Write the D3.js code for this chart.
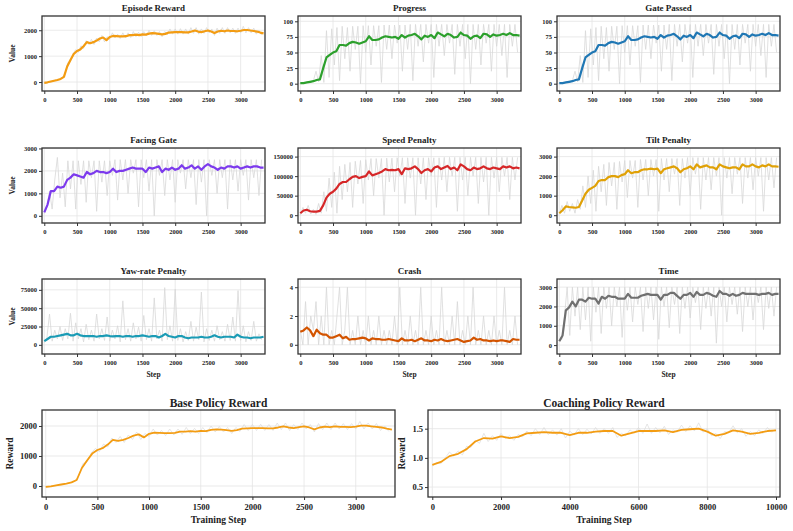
<!DOCTYPE html>
<html>
<head>
<meta charset="utf-8">
<script src="https://cdn.jsdelivr.net/npm/d3@7"></script>
<style>
  body { margin: 0; background: #fff; }
  text { font-family: "Liberation Serif", "Times New Roman", serif; font-weight: bold; fill: #222; }
</style>
</head>
<body>
<svg id="chart" width="793" height="531"></svg>
<script>
// training steps for the metric grid: smoothed every 50 steps, raw every 40 steps
var smoothStep = 50, rawStep = 40;
var stepTicks = [0, 500, 1000, 1500, 2000, 2500, 3000];
var coachTicks = [0, 2000, 4000, 6000, 8000, 10000];

var episodeSmooth = [
  -30, -10, 20, 50, 80, 120, 200, 600, 850, 1080,
  1200, 1260, 1380, 1540, 1500, 1540, 1600, 1680, 1720, 1620,
  1740, 1780, 1770, 1760, 1760, 1770, 1810, 1810, 1830, 1810,
  1840, 1830, 1870, 1890, 1880, 1860, 1840, 1860, 1910, 1920,
  1930, 1930, 1930, 1920, 1920, 1950, 1990, 1950, 1930, 1960,
  1990, 1950, 1890, 1950, 1980, 1960, 1990, 1970, 1970, 1960,
  1980, 2010, 2010, 1990, 1970, 1950, 1910, 1880];
var episodeRaw = [
  -60, -20, 0, 20, 60, 80, 120, 160, 350, 750, 800, 1100,
  1250, 1150, 1400, 1300, 1600, 1450, 1650, 1450, 1700, 1550, 1800, 1550,
  1750, 1650, 1900, 1700, 1850, 1680, 1900, 1700, 1900, 1720, 1950, 1750,
  1920, 1750, 1950, 1780, 2000, 1800, 1980, 1800, 1950, 1750, 1950, 1820,
  2050, 1850, 2050, 1850, 2060, 1850, 2050, 1850, 2100, 1880, 2100, 1850,
  2050, 1880, 2100, 1900, 2050, 1800, 2080, 1880, 2100, 1880, 2100, 1900,
  2080, 1880, 2080, 1900, 2150, 1900, 2100, 1900, 2080, 1850, 2000, 1820];

var progressSmooth = [
  1, 1, 2, 3, 4, 6, 7, 25, 42, 46,
  50, 52, 62, 62, 61, 65, 67, 66, 64, 66,
  68, 76, 70, 70, 71, 74, 76, 75, 74, 75,
  72, 78, 74, 77, 78, 80, 76, 71, 77, 75,
  78, 73, 82, 79, 76, 80, 78, 74, 75, 82,
  78, 77, 72, 76, 77, 73, 80, 79, 75, 79,
  77, 78, 80, 78, 81, 78, 78, 77];
var progressRaw = [
  0, 2, 1, 3, 2, 5, 20, 3, 45, 2, 85, 10,
  88, 30, 90, 5, 92, 40, 90, 20, 92, 55, 92, 0,
  93, 50, 93, 30, 93, 60, 93, 2, 94, 55, 94, 40,
  94, 65, 94, 20, 94, 55, 95, 5, 95, 60, 95, 35,
  95, 65, 95, 10, 95, 60, 95, 45, 95, 65, 95, 15,
  95, 60, 95, 40, 95, 0, 95, 55, 95, 30, 95, 65,
  95, 20, 95, 60, 95, 45, 95, 10, 95, 60, 95, 50];

var facingSmooth = [
  150, 500, 1100, 1100, 1300, 1250, 1300, 1600, 1700, 1850,
  1800, 1750, 1700, 1950, 1850, 1900, 2000, 1950, 1950, 1900,
  1950, 2100, 1950, 2000, 2000, 2050, 2100, 2150, 2100, 2100,
  2100, 1950, 2150, 2100, 2150, 2200, 1950, 2100, 2050, 2150,
  2050, 2100, 2250, 2100, 2150, 2250, 2100, 2200, 2050, 2200,
  2300, 2200, 2150, 2050, 2150, 2100, 2200, 2200, 2150, 2200,
  2100, 2150, 2200, 2150, 2200, 2200, 2150, 2150];
var facingRaw = [
  100, 400, 1100, 300, 1600, 2600, 800, 1900, 400, 2450, 1200, 2450,
  300, 2450, 1400, 2450, 600, 2450, 1700, 2450, 200, 2450, 1500, 2450,
  900, 2450, 1800, 2500, 700, 2500, 1600, 2500, 1000, 2500, 1900, 2500,
  400, 2500, 1700, 2500, 1100, 2500, 0, 2500, 1800, 2500, 900, 2500,
  1600, 2500, 600, 2500, 1900, 2500, 1200, 2500, 1700, 2500, 500, 2500,
  1500, 2500, 0, 2500, 1800, 2500, 1000, 2500, 1700, 2500, 300, 2500,
  1600, 2500, 1100, 2500, 1800, 2500, 700, 2500, 1700, 2500, 900, 2500];

var speedSmooth = [
  5000, 12000, 14000, 10000, 9000, 9000, 11000, 25000, 45000, 55000,
  60000, 68000, 80000, 85000, 85000, 92000, 98000, 100000, 95000, 98000,
  100000, 112000, 102000, 105000, 108000, 112000, 118000, 115000, 116000, 115000,
  118000, 105000, 120000, 118000, 120000, 125000, 118000, 108000, 115000, 118000,
  112000, 122000, 125000, 118000, 122000, 126000, 118000, 122000, 115000, 130000,
  125000, 118000, 115000, 122000, 118000, 120000, 125000, 120000, 118000, 122000,
  120000, 118000, 125000, 122000, 125000, 120000, 122000, 120000];
var speedRaw = [
  0, 20000, 5000, 25000, 3000, 15000, 2000, 30000, 5000, 60000, 10000, 95000,
  20000, 110000, 5000, 125000, 40000, 130000, 60000, 135000, 20000, 138000, 80000, 140000,
  30000, 142000, 90000, 145000, 50000, 145000, 95000, 145000, 0, 146000, 85000, 146000,
  60000, 147000, 100000, 147000, 30000, 147000, 95000, 147000, 0, 147000, 80000, 147000,
  40000, 147000, 100000, 147000, 20000, 147000, 90000, 148000, 60000, 148000, 100000, 148000,
  10000, 148000, 90000, 148000, 50000, 148000, 100000, 148000, 30000, 148000, 85000, 148000,
  0, 148000, 95000, 148000, 60000, 148000, 100000, 148000, 40000, 148000, 90000, 148000];

var tiltSmooth = [
  100, 250, 450, 420, 400, 380, 420, 750, 1100, 1300,
  1400, 1500, 1750, 1800, 1800, 1950, 2000, 2000, 1950, 2050,
  2100, 2300, 2150, 2200, 2200, 2300, 2350, 2350, 2380, 2350,
  2380, 2150, 2350, 2400, 2450, 2500, 2400, 2200, 2350, 2400,
  2500, 2350, 2600, 2450, 2500, 2550, 2450, 2450, 2350, 2600,
  2500, 2450, 2400, 2450, 2450, 2350, 2600, 2500, 2500, 2600,
  2500, 2450, 2550, 2500, 2600, 2500, 2500, 2480];
var tiltRaw = [
  50, 500, 100, 700, 200, 600, 100, 800, 300, 1500, 400, 2000,
  600, 2300, 200, 2500, 1200, 2600, 500, 2700, 1500, 2700, 300, 2750,
  1700, 2800, 900, 2800, 1900, 2800, 400, 2850, 1800, 2850, 1000, 2850,
  2000, 2850, 200, 2900, 1800, 2900, 1200, 2900, 2100, 2900, 500, 2900,
  1900, 2950, 1000, 2950, 2100, 2950, 300, 2950, 1800, 2950, 1300, 2950,
  2000, 2950, 0, 2950, 1900, 2950, 1100, 2950, 2100, 2950, 600, 2950,
  1900, 2950, 1300, 2950, 2000, 2950, 200, 2950, 1800, 2950, 1400, 2950];

var yawSmooth = [
  5000, 8000, 11000, 11000, 12000, 13000, 14000, 15000, 13000, 13000,
  15000, 13000, 12000, 12000, 12000, 12000, 11000, 12000, 12000, 13000,
  12000, 11500, 12000, 12000, 11000, 12000, 12000, 11000, 12000, 12000,
  13000, 12000, 11000, 12000, 12000, 10000, 12000, 15000, 12000, 11000,
  10000, 12000, 12000, 10000, 9000, 10000, 10000, 10000, 11000, 10000,
  10000, 11000, 13000, 11000, 10000, 11000, 11000, 11000, 10000, 14000,
  11000, 10000, 10000, 9000, 10000, 10000, 10000, 11000];
var yawRaw = [
  3000, 10000, 42000, 5000, 20000, 8000, 25000, 6000, 22000, 8000, 43000, 5000,
  30000, 8000, 22000, 4000, 28000, 7000, 20000, 5000, 42000, 8000, 22000, 6000,
  38000, 5000, 20000, 8000, 26000, 4000, 60000, 7000, 22000, 5000, 30000, 8000,
  24000, 5000, 40000, 7000, 22000, 5000, 64000, 8000, 20000, 5000, 78000, 7000,
  26000, 5000, 76000, 6000, 22000, 4000, 18000, 6000, 32000, 5000, 24000, 7000,
  72000, 4000, 22000, 6000, 20000, 5000, 26000, 7000, 18000, 5000, 28000, 6000,
  38000, 5000, 74000, 6000, 26000, 4000, 18000, 6000, 32000, 5000, 15000, 7000];

var crashSmooth = [
  0.9, 1.0, 1.2, 1.0, 0.6, 1.05, 0.8, 0.7, 0.7, 0.5,
  0.5, 0.6, 0.7, 0.45, 0.55, 0.35, 0.4, 0.4, 0.45, 0.5,
  0.45, 0.3, 0.45, 0.4, 0.4, 0.35, 0.35, 0.4, 0.35, 0.3,
  0.25, 0.45, 0.3, 0.3, 0.35, 0.25, 0.35, 0.45, 0.3, 0.3,
  0.25, 0.35, 0.3, 0.4, 0.3, 0.25, 0.3, 0.35, 0.4, 0.3,
  0.2, 0.25, 0.3, 0.5, 0.35, 0.4, 0.3, 0.3, 0.25, 0.3,
  0.25, 0.3, 0.3, 0.25, 0.2, 0.4, 0.35, 0.35];
var crashRaw = [
  1, 0, 3, 0, 2, 1, 3, 0, 2, 0, 4, 0,
  1, 0, 2, 4, 0, 1, 4, 0, 1, 0, 2, 0,
  1, 0, 2, 0, 1, 0, 2, 0, 1, 0, 1, 0,
  2, 0, 4, 0, 1, 0, 2, 0, 1, 0, 4, 0,
  1, 0, 2, 0, 1, 0, 4, 0, 1, 0, 2, 0,
  3, 0, 1, 0, 2, 0, 4, 0, 1, 0, 2, 0,
  1, 0, 2, 0, 1, 0, 4, 0, 1, 0, 2, 0];

var timeSmooth = [
  200, 500, 1800, 1950, 2250, 2000, 2350, 2350, 2250, 2450,
  2400, 2400, 2150, 2500, 2400, 2550, 2500, 2500, 2400, 2400,
  2400, 2650, 2450, 2450, 2450, 2550, 2600, 2650, 2600, 2600,
  2600, 2350, 2600, 2600, 2700, 2700, 2550, 2400, 2600, 2600,
  2700, 2500, 2750, 2600, 2600, 2700, 2650, 2550, 2500, 2800,
  2650, 2650, 2550, 2650, 2550, 2600, 2700, 2650, 2650, 2650,
  2650, 2600, 2650, 2650, 2700, 2600, 2650, 2650];
var timeRaw = [
  200, 300, 1500, 3000, 500, 3000, 1500, 3000, 800, 3000, 1300, 3000,
  200, 3000, 1700, 3000, 600, 3000, 1900, 3000, 1000, 3000, 2000, 3000,
  400, 3000, 1800, 3000, 1200, 3000, 2100, 3000, 700, 3000, 1900, 3000,
  1300, 3000, 300, 3000, 2000, 3000, 900, 3000, 2100, 3000, 600, 3000,
  1900, 3000, 1400, 3000, 2200, 3000, 800, 3000, 1900, 3000, 1500, 3000,
  100, 3000, 2000, 3000, 1200, 3000, 2100, 3000, 1600, 3000, 700, 3000,
  2000, 3000, 1300, 3000, 2200, 3000, 800, 3000, 1900, 3000, 1500, 3000];

// coaching policy: smoothed every 250 steps, raw every 125 steps
var coachSmoothStep = 250, coachRawStep = 125;
var coachSmooth = [
  0.88, 0.93, 1.03, 1.07, 1.15, 1.28, 1.34, 1.33, 1.37, 1.34,
  1.36, 1.42, 1.43, 1.44, 1.43, 1.43, 1.39, 1.43, 1.43, 1.45,
  1.46, 1.46, 1.38, 1.42, 1.46, 1.46, 1.46, 1.47, 1.44, 1.48,
  1.49, 1.50, 1.45, 1.38, 1.41, 1.47, 1.45, 1.41, 1.43, 1.46,
  1.47];
var coachRaw = [
  0.86, 0.92, 0.9, 1.0, 1.1, 1.03, 1.12, 1.05, 1.2, 1.18,
  1.3, 1.25, 1.42, 1.28, 1.38, 1.3, 1.42, 1.33, 1.38, 1.3,
  1.4, 1.36, 1.46, 1.38, 1.5, 1.4, 1.52, 1.4, 1.48, 1.39,
  1.5, 1.34, 1.46, 1.39, 1.5, 1.4, 1.49, 1.41, 1.52, 1.42,
  1.5, 1.42, 1.52, 1.35, 1.42, 1.38, 1.48, 1.42, 1.52, 1.42,
  1.58, 1.42, 1.52, 1.43, 1.54, 1.4, 1.48, 1.44, 1.56, 1.45,
  1.55, 1.46, 1.6, 1.44, 1.5, 1.38, 1.42, 1.33, 1.45, 1.43,
  1.55, 1.43, 1.5, 1.37, 1.45, 1.38, 1.48, 1.42, 1.52, 1.44,
  1.5];

var svg = d3.select("#chart");
var clipId = 0;

function panel(p) {
  var g = svg.append("g").attr("transform", "translate(" + p.left + "," + p.top + ")");
  var x = d3.scaleLinear().domain(p.xDomain).range([0, p.w]);
  var y = d3.scaleLinear().domain(p.yDomain).range([p.h, 0]);
  var id = "clip" + (clipId++);
  g.append("clipPath").attr("id", id).append("rect").attr("width", p.w).attr("height", p.h);

  // grid
  g.selectAll(".gx").data(p.xTicks).enter().append("line")
    .attr("x1", function (d) { return x(d); }).attr("x2", function (d) { return x(d); })
    .attr("y1", 0).attr("y2", p.h)
    .attr("stroke", "#e4e4e4").attr("stroke-width", 0.8);
  g.selectAll(".gy").data(p.yTicks).enter().append("line")
    .attr("y1", function (d) { return y(d); }).attr("y2", function (d) { return y(d); })
    .attr("x1", 0).attr("x2", p.w)
    .attr("stroke", "#e4e4e4").attr("stroke-width", 0.8);

  var plot = g.append("g").attr("clip-path", "url(#" + id + ")");
  var rawLine = d3.line()
    .x(function (d, i) { return x(i * p.rawStep); })
    .y(function (d) { return y(d); });
  plot.append("path").datum(p.raw).attr("d", rawLine)
    .attr("fill", "none").attr("stroke", "#d8d8d8").attr("stroke-opacity", 0.8)
    .attr("stroke-width", p.rawW);
  var smoothLine = d3.line()
    .x(function (d, i) { return x(i * p.smoothStep); })
    .y(function (d) { return y(d); });
  plot.append("path").datum(p.smooth).attr("d", smoothLine)
    .attr("fill", "none").attr("stroke", p.color)
    .attr("stroke-width", p.lw).attr("stroke-linejoin", "round");

  // axes
  var ax = g.append("g").attr("transform", "translate(0," + p.h + ")")
    .call(d3.axisBottom(x).tickValues(p.xTicks).tickSize(3).tickPadding(p.pad).tickFormat(d3.format("d")));
  var ay = g.append("g")
    .call(d3.axisLeft(y).tickValues(p.yTicks).tickSize(3).tickPadding(2).tickFormat(p.yFormat || d3.format("d")));
  [ax, ay].forEach(function (a) {
    a.select(".domain").remove();
    a.selectAll("line").attr("stroke", "#333");
    a.selectAll("text").style("font-size", p.tickFont + "px").attr("fill", "#222");
  });

  g.append("rect").attr("width", p.w).attr("height", p.h)
    .attr("fill", "none").attr("stroke", "#333").attr("stroke-width", 1.3);

  g.append("text").attr("x", p.w / 2).attr("y", -p.titleGap)
    .attr("text-anchor", "middle").style("font-size", p.titleFont + "px").text(p.title);

  if (p.yLabel) {
    g.append("text").attr("transform", "translate(" + (-p.yLabelGap) + "," + (p.h / 2) + ") rotate(-90)")
      .attr("text-anchor", "middle").style("font-size", p.labelFont + "px").text(p.yLabel);
  }
  if (p.xLabel) {
    g.append("text").attr("x", p.w / 2).attr("y", p.h + p.xLabelGap)
      .attr("text-anchor", "middle").style("font-size", p.labelFont + "px").text(p.xLabel);
  }
}

var colLeft = [42, 298, 557], rowTop = [16, 148, 279];
var grid = [
  { title: "Episode Reward", smooth: episodeSmooth, raw: episodeRaw, color: "#f39c12", yDomain: [-346, 2550], yTicks: [0, 1000, 2000] },
  { title: "Progress", smooth: progressSmooth, raw: progressRaw, color: "#2ca02c", yDomain: [-11.7, 108.5], yTicks: [0, 25, 50, 75, 100] },
  { title: "Gate Passed", smooth: progressSmooth, raw: progressRaw, color: "#1f77b4", yDomain: [-11.7, 108.5], yTicks: [0, 25, 50, 75, 100] },
  { title: "Facing Gate", smooth: facingSmooth, raw: facingRaw, color: "#7c3aed", yDomain: [-320, 3020], yTicks: [0, 1000, 2000, 3000] },
  { title: "Speed Penalty", smooth: speedSmooth, raw: speedRaw, color: "#d62728", yDomain: [-20000, 172000], yTicks: [0, 50000, 100000, 150000] },
  { title: "Tilt Penalty", smooth: tiltSmooth, raw: tiltRaw, color: "#e0a106", yDomain: [-400, 3440], yTicks: [0, 1000, 2000, 3000] },
  { title: "Yaw-rate Penalty", smooth: yawSmooth, raw: yawRaw, color: "#1a9bb5", yDomain: [-12500, 89800], yTicks: [0, 25000, 50000, 75000] },
  { title: "Crash", smooth: crashSmooth, raw: crashRaw, color: "#d35400", yDomain: [-0.64, 4.57], yTicks: [0, 2, 4] },
  { title: "Time", smooth: timeSmooth, raw: timeRaw, color: "#707070", yDomain: [-460, 3420], yTicks: [0, 1000, 2000, 3000] }
];

grid.forEach(function (c, i) {
  var col = i % 3, row = Math.floor(i / 3);
  panel({
    left: colLeft[col], top: rowTop[row], w: 223, h: 75,
    xDomain: [-35, 3372], xTicks: stepTicks, yDomain: c.yDomain, yTicks: c.yTicks,
    smooth: c.smooth, smoothStep: smoothStep, raw: c.raw, rawStep: rawStep, rawW: 1.0,
    color: c.color, lw: 2.2, title: c.title, titleGap: 5, titleFont: 9,
    tickFont: 6.5, pad: 3, labelFont: 7.5,
    yLabel: col === 0 ? "Value" : null, yLabelGap: 27,
    xLabel: row === 2 ? "Step" : null, xLabelGap: 23
  });
});

panel({
  left: 42, top: 410, w: 353, h: 87,
  xDomain: [-36, 3380], xTicks: stepTicks, yDomain: [-367, 2533], yTicks: [0, 1000, 2000],
  smooth: episodeSmooth, smoothStep: smoothStep, raw: episodeRaw, rawStep: rawStep, rawW: 0.8,
  color: "#f39c12", lw: 1.8, title: "Base Policy Reward", titleGap: 3, titleFont: 11.5,
  tickFont: 8.5, pad: 3.5, labelFont: 9.5,
  yLabel: "Reward", yLabelGap: 29, xLabel: "Training Step", xLabelGap: 25.5
});

panel({
  left: 428, top: 410, w: 352, h: 87,
  xDomain: [-125, 10116], xTicks: coachTicks, yDomain: [0.33, 1.82], yTicks: [0.5, 1.0, 1.5],
  yFormat: d3.format(".1f"),
  smooth: coachSmooth, smoothStep: coachSmoothStep, raw: coachRaw, rawStep: coachRawStep, rawW: 0.8,
  color: "#f39c12", lw: 1.8, title: "Coaching Policy Reward", titleGap: 3, titleFont: 11.5,
  tickFont: 8.5, pad: 3.5, labelFont: 9.5,
  yLabel: "Reward", yLabelGap: 23, xLabel: "Training Step", xLabelGap: 25.5
});
</script>
</body>
</html>
